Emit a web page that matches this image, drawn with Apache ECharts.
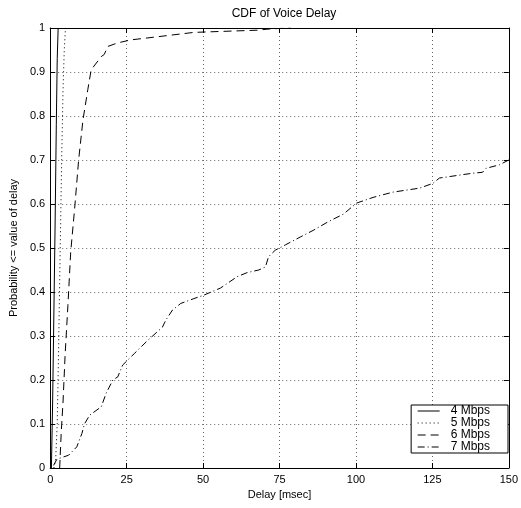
<!DOCTYPE html>
<html><head><meta charset="utf-8">
<script src="https://cdn.jsdelivr.net/npm/echarts@6/dist/echarts.min.js"></script>
<style>html,body{margin:0;padding:0;background:#fff}#c{width:521px;height:508px}</style>
</head><body><div id="c"></div>
<script>
const seriesNames = ['4 Mbps','5 Mbps','6 Mbps','7 Mbps'];
const xTicks = [0,25,50,75,100,125,150];
const yTicks = [0,0.1,0.2,0.3,0.4,0.5,0.6,0.7,0.8,0.9,1];

const x4 = [0.4, 0.8, 1.2, 1.6, 2.0, 2.3, 2.6];
const y4 = [0, 0.15, 0.35, 0.55, 0.78, 0.93, 1];

const x5 = [1.2, 1.8, 2.3, 2.7, 3.0, 3.4, 3.8, 4.2, 4.6, 5.0];
const y5 = [0, 0.02, 0.1, 0.25, 0.38, 0.55, 0.72, 0.86, 0.95, 1];

const x6 = [3.1, 3.6, 4.2, 4.9, 5.8, 6.7, 8.0, 9.3, 10.7, 12.3, 13.4, 16.7, 17.7, 18.8, 22, 26.4, 35, 47, 55, 67.7, 72, 78.6];
const y6 = [0, 0.08, 0.15, 0.26, 0.37, 0.49, 0.59, 0.70, 0.79, 0.86, 0.905, 0.935, 0.94, 0.958, 0.966, 0.973, 0.98, 0.99, 0.992, 0.995, 0.998, 1];

const x7 = [1.1, 2.2, 6.0, 8.7, 10.4, 11.2, 12.9, 16.7, 18.3, 20.5, 22.1, 23.7, 27.5, 31.9, 36.7, 37.8, 40.0, 42.7, 47.0, 50.3, 55.7, 61.2, 64.4, 68.2, 70.4, 71.4, 73.6, 76.9, 81.8, 86.0, 91.0, 95.9, 100.2, 105.6, 112.1, 120.8, 125.2, 127.3, 138.2, 141.4, 142.5, 146.9, 150];
const y7 = [0.006, 0.02, 0.029, 0.048, 0.079, 0.10, 0.12, 0.139, 0.17, 0.20, 0.207, 0.234, 0.26, 0.29, 0.32, 0.336, 0.359, 0.374, 0.385, 0.393, 0.409, 0.435, 0.444, 0.45, 0.457, 0.48, 0.495, 0.507, 0.525, 0.54, 0.56, 0.577, 0.602, 0.615, 0.627, 0.636, 0.647, 0.659, 0.67, 0.672, 0.681, 0.689, 0.70];

const xs = [x4, x5, x6, x7];
const ys = [y4, y5, y6, y7];
const dashes = ['solid', [1, 3], [8, 5], [7, 3, 1, 3]];

const FONT = '"Liberation Sans", Arial, Helvetica, sans-serif';
const chart = echarts.init(document.getElementById('c'), null, {renderer: 'canvas'});

const series = seriesNames.map((n, i) => ({
  name: n,
  type: 'line',
  showSymbol: false,
  symbol: 'none',
  animation: false,
  data: xs[i].map((x, k) => [x, ys[i][k]]),
  lineStyle: {color: '#000', width: 1, type: dashes[i]},
  itemStyle: {color: '#000'}
}));

const gridLine = {show: true, lineStyle: {color: '#666', width: 1, type: [1, 3]}};

chart.setOption({
  animation: false,
  backgroundColor: '#fff',
  title: {
    text: 'CDF of Voice Delay', left: 279, top: 3, textAlign: 'center',
    textStyle: {fontFamily: FONT, fontSize: 12, fontWeight: 'normal', color: '#000'}
  },
  grid: {left: 49, right: 11, top: 28, bottom: 40, containLabel: false},
  legend: {
    data: seriesNames,
    orient: 'vertical',
    right: 13, bottom: 55,
    backgroundColor: '#fff', borderColor: '#000', borderWidth: 1,
    padding: [0, 18, 0, 6], itemGap: 0, itemWidth: 22, itemHeight: 11,
    itemStyle: {opacity: 0},
    lineStyle: {width: 1},
    textStyle: {fontFamily: FONT, fontSize: 12, lineHeight: 11, color: '#000', padding: [0, 0, 0, 6]}
  },
  xAxis: [{
    type: 'value', min: 0, max: 150, interval: 25,
    name: 'Delay [msec]', nameLocation: 'middle', nameGap: 21,
    nameTextStyle: {fontFamily: FONT, fontSize: 11, color: '#000'},
    axisLine: {show: true, onZero: false, lineStyle: {color: '#000', width: 1}},
    axisTick: {show: true, inside: true, length: 5, lineStyle: {color: '#000'}},
    axisLabel: {fontFamily: FONT, fontSize: 11, color: '#000', margin: 6},
    splitLine: gridLine
  }, {
    type: 'value', min: 0, max: 150, interval: 25, position: 'top',
    axisLine: {show: true, onZero: false, lineStyle: {color: '#000', width: 1}},
    axisTick: {show: true, inside: true, length: 5, lineStyle: {color: '#000'}},
    axisLabel: {show: false}, splitLine: {show: false}
  }],
  yAxis: [{
    type: 'value', min: 0, max: 1, interval: 0.1,
    name: 'Probability <= value of delay', nameLocation: 'middle', nameGap: 26,
    nameTextStyle: {fontFamily: FONT, fontSize: 11, color: '#000'},
    axisLine: {show: true, onZero: false, lineStyle: {color: '#000', width: 1}},
    axisTick: {show: true, inside: true, length: 5, lineStyle: {color: '#000'}},
    axisLabel: {fontFamily: FONT, fontSize: 11, color: '#000', margin: 5},
    splitLine: gridLine
  }, {
    type: 'value', min: 0, max: 1, interval: 0.1, position: 'right',
    axisLine: {show: true, onZero: false, lineStyle: {color: '#000', width: 1}},
    axisTick: {show: true, inside: true, length: 5, lineStyle: {color: '#000'}},
    axisLabel: {show: false}, splitLine: {show: false}
  }],
  series: series
});
</script>
</body></html>
